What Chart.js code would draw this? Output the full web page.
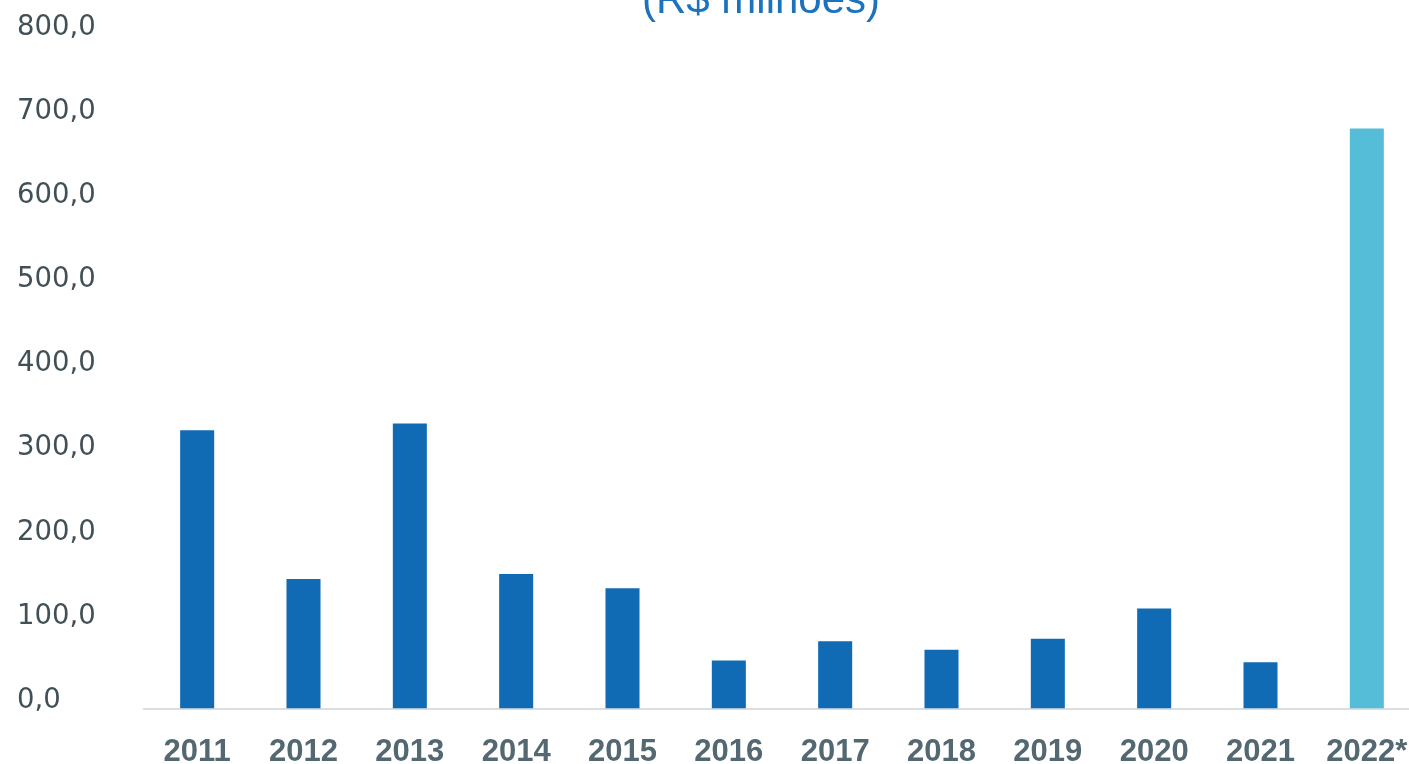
<!DOCTYPE html>
<html lang="pt-BR">
<head>
  <meta charset="UTF-8">
  <title>(R$ milhões)</title>
  <style>
    html, body { margin: 0; padding: 0; background: #fff; overflow: hidden; }
    #wrap { position: relative; width: 1420px; height: 764px; overflow: hidden; }
    #title { position: absolute; top: -22px; left: 761px; transform: translateX(-50%);
             font: 42px "Liberation Sans", Arial, sans-serif; line-height: 42px;
             color: #1b72bd; white-space: nowrap; }
    canvas { position: absolute; left: 0; top: 0; }
  </style>
</head>
<body>
  <div id="wrap">
    <canvas id="chart" width="1420" height="764"></canvas>
    <div id="title">(R$ milhões)</div>
  </div>

  <script src="https://cdn.jsdelivr.net/npm/chart.js"></script>
  <script>
    const years = ['2011', '2012', '2013', '2014', '2015', '2016', '2017', '2018', '2019', '2020', '2021', '2022*'];
    const values = [331, 154, 339, 160, 143, 57, 80, 70, 83, 119, 55, 690];
    const yTickLabels = ['0,0', '100,0', '200,0', '300,0', '400,0', '500,0', '600,0', '700,0', '800,0'];

    // 2022* é projeção -> azul claro
    const barColors = years.map(y => y.endsWith('*') ? '#56bdd9' : '#116bb4');

    const ctx = document.getElementById('chart').getContext('2d');
    new Chart(ctx, {
      type: 'bar',
      data: {
        labels: years,
        datasets: [{
          data: values,
          backgroundColor: barColors,
          barPercentage: 0.32,
          categoryPercentage: 1
        }]
      },
      options: {
        responsive: false,
        animation: false,
        devicePixelRatio: 1,
        layout: { padding: { top: 36, left: 17, right: 0, bottom: 0 } },
        plugins: { legend: { display: false }, tooltip: { enabled: false } },
        scales: {
          x: {
            grid: { display: false, drawTicks: false },
            border: { display: true, color: '#d8dee2', width: 2 },
            ticks: {
              padding: 25,
              color: '#536871',
              font: { family: '"Liberation Sans", Arial, sans-serif', size: 31, weight: 'bold' }
            },
            afterFit: s => { s.height = 55.5; s.paddingLeft = 0; s.paddingRight = 0; }
          },
          y: {
            min: 0,
            max: 800,
            grid: { display: false, drawTicks: false },
            border: { display: false },
            ticks: {
              stepSize: 100,
              crossAlign: 'far',
              labelOffset: -8,
              color: '#414f56',
              font: { family: '"DejaVu Sans", sans-serif', size: 27.5 },
              callback: (v, i) => yTickLabels[i]
            },
            afterFit: s => { s.width = 127; }
          }
        }
      }
    });
  </script>
</body>
</html>
